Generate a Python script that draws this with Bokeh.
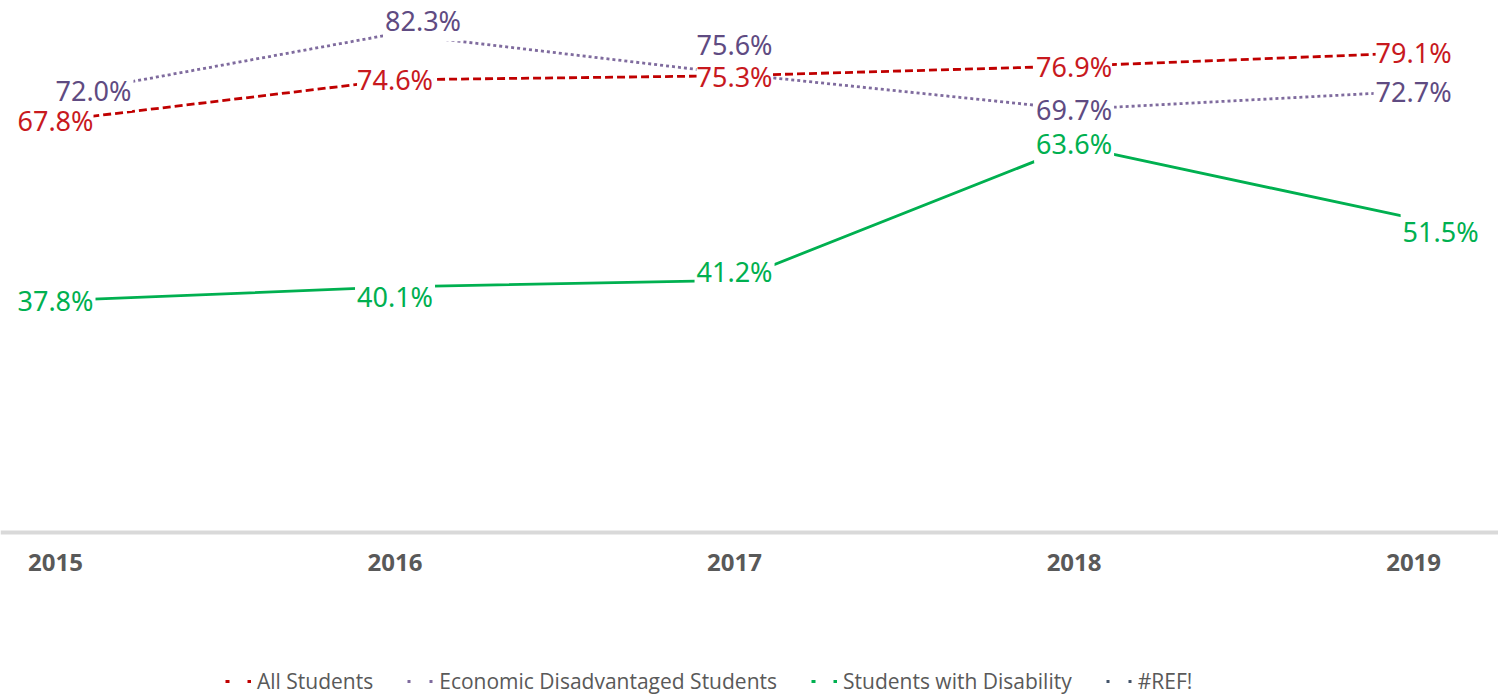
import math
from bokeh.plotting import figure
from bokeh.models import ColumnDataSource, LabelSet, Legend, LegendItem, Range1d, FixedTicker
from bokeh.core.properties import value
from bokeh.embed import file_html
from bokeh.resources import INLINE

years = [2015, 2016, 2017, 2018, 2019]
all_students = [67.8, 74.6, 75.3, 76.9, 79.1]
econ_disadv = [72.0, 82.3, 75.6, 69.7, 72.7]
disability = [37.8, 40.1, 41.2, 63.6, 51.5]
ref_series = [math.nan] * 5  # "#REF!" series has no values

series_names = ["All Students", "Economic Disadvantaged Students", "Students with Disability", "#REF!"]

# label offsets in screen px (style only)
off_red = ([0, 0, 0, 0, 0], [0, 0, -1, 0, 0])
off_pur = ([38, 28, 0, 0, 0], [5, 13, 29, 0, 0])
off_grn = ([0, 0, 0, 0, 27], [0, -10, 9, 2, -13])
BASE_SHIFT = 0

RED = "#C00000"
RED_T = "#C8191E"
PUR_L = "#7F6B9E"
PUR_T = "#5F4B82"
GRN = "#00B050"
REFC = "#44546A"

p = figure(width=1498, height=698, output_backend="svg", toolbar_location=None,
           x_range=Range1d(2014.838, 2019.250), y_range=Range1d(-28.5, 87.83),
           y_axis_location=None, min_border_left=0, min_border_right=0,
           min_border_top=0, min_border_bottom=0)
p.outline_line_color = None
p.xgrid.visible = False
p.ygrid.visible = False
p.background_fill_color = "white"

p.line(years, all_students, line_color=RED, line_width=2.8, line_dash="8 4")
p.line(years, econ_disadv, line_color=PUR_L, line_width=2.8, line_dash="3 3")
p.line(years, disability, line_color=GRN, line_width=2.8)

# legend-only renderers (no visible data)
l1 = p.line(years, ref_series, line_color=RED, line_width=3, line_dash="4 18")
l2 = p.line(years, ref_series, line_color=PUR_L, line_width=3, line_dash="3 19")
l3 = p.line(years, ref_series, line_color=GRN, line_width=3, line_dash="4 18")
l4 = p.line(years, ref_series, line_color=REFC, line_width=3, line_dash="3 19")

def labels(vals, offs, color, border):
    src = ColumnDataSource(dict(x=years, y=vals, t=[f"{v:.1f}%" for v in vals],
                                xo=offs[0], yo=[o + BASE_SHIFT for o in offs[1]]))
    ls = LabelSet(x="x", y="y", text="t", source=src, x_offset="xo", y_offset="yo",
                  text_align="center", text_baseline="middle",
                  text_font=value("Noto Sans"), text_font_size=value("27px"),
                  text_color=value(color),
                  background_fill_color=value("white"),
                  border_line_color=value("white"), border_line_width=value(border))
    p.add_layout(ls)

labels(econ_disadv, off_pur, PUR_T, 4)
labels(all_students, off_red, RED_T, 0)
labels(disability, off_grn, GRN, 4)

ax = p.xaxis[0]
ax.fixed_location = -0.83
ax.ticker = FixedTicker(ticks=years)
ax.major_label_overrides = {y: str(y) for y in years}
ax.axis_line_color = "#D9D9D9"
ax.axis_line_width = 4
ax.major_tick_line_color = None
ax.minor_tick_line_color = None
ax.major_label_standoff = 16
ax.major_label_text_font = "Open Sans"
ax.major_label_text_font_style = "bold"
ax.major_label_text_font_size = "24px"
ax.major_label_text_color = "#595959"

legend = Legend(items=[LegendItem(label=series_names[0], renderers=[l1]),
                       LegendItem(label=series_names[1], renderers=[l2]),
                       LegendItem(label=series_names[2], renderers=[l3]),
                       LegendItem(label=series_names[3], renderers=[l4])],
                orientation="horizontal", location=(225, 3),
                label_text_font="Open Sans", label_text_font_size="21px",
                label_text_color="#595959", glyph_width=26, glyph_height=20,
                label_standoff=6, spacing=34, padding=0, margin=0,
                border_line_color=None, background_fill_alpha=0)
p.add_layout(legend)

open("out.html", "w").write(file_html(p, INLINE))
